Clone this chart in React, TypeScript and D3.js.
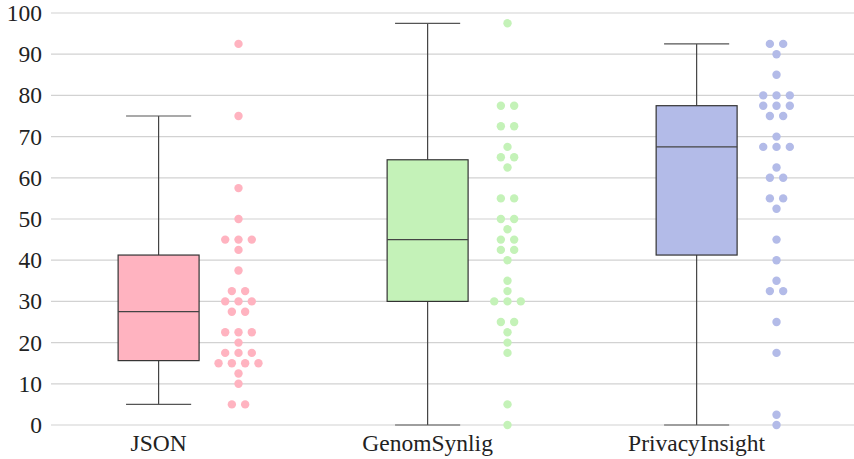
import React, { useEffect, useRef } from 'react';
import * as d3 from 'd3';

// categories + colours
const categories = ['JSON', 'GenomSynlig', 'PrivacyInsight'];
const colors = ['#ffb3c0', '#c4f2b8', '#b3bbe8'];

// raw scores
const jsonScores = [92.5, 75, 57.5, 50, 45, 45, 45, 42.5, 37.5, 32.5, 32.5, 30, 30, 30, 27.5, 27.5,
  22.5, 22.5, 22.5, 20, 17.5, 17.5, 17.5, 15, 15, 15, 15, 12.5, 10, 5, 5];
const genomScores = [97.5, 77.5, 77.5, 72.5, 72.5, 67.5, 65, 65, 62.5, 55, 55, 50, 50, 47.5, 45, 45,
  42.5, 42.5, 40, 35, 32.5, 30, 30, 30, 25, 25, 22.5, 20, 17.5, 5, 0];
const privacyScores = [92.5, 92.5, 90, 85, 80, 80, 80, 77.5, 77.5, 77.5, 75, 75, 70, 67.5, 67.5, 67.5,
  62.5, 60, 60, 55, 55, 52.5, 45, 40, 35, 32.5, 32.5, 25, 17.5, 2.5, 0];

const yTicks = [0, 10, 20, 30, 40, 50, 60, 70, 80, 90, 100];

const W = 854, H = 459;

// quantile with p_k = (k - 0.5)/n
function quant(sorted: number[], p: number) {
  const n = sorted.length;
  let h = n * p + 0.5 - 1;
  if (h <= 0) return sorted[0];
  if (h >= n - 1) return sorted[n - 1];
  const lo = Math.floor(h);
  return sorted[lo] + (h - lo) * (sorted[lo + 1] - sorted[lo]);
}

function boxStats(values: number[]) {
  const s = values.slice().sort((a, b) => a - b);
  const q1 = quant(s, 0.25), med = quant(s, 0.5), q3 = quant(s, 0.75);
  const iqr = q3 - q1;
  const lo = d3.min(s.filter(v => v >= q1 - 1.5 * iqr)) as number;
  const hi = d3.max(s.filter(v => v <= q3 + 1.5 * iqr)) as number;
  return { q1, med, q3, lo, hi };
}

const App = () => {
  const ref = useRef<SVGSVGElement>(null);

  useEffect(() => {
    const svg = d3.select(ref.current);
    svg.selectAll('*').remove();

    const series = [jsonScores, genomScores, privacyScores];

    const x = d3.scaleLinear().domain([-0.4, 2.585]).range([51, W]);
    const y = d3.scaleLinear().domain([0, 100]).range([425, 13]);
    const unit = x(1) - x(0);

    const font = '"Liberation Serif", "DejaVu Serif", serif';

    // grid
    svg.append('g')
      .selectAll('line')
      .data(yTicks)
      .enter()
      .append('line')
      .attr('x1', 51).attr('x2', W)
      .attr('y1', d => y(d)).attr('y2', d => y(d))
      .attr('stroke', '#d2d2d2')
      .attr('stroke-width', 1.2);

    // y tick labels
    svg.append('g')
      .selectAll('text')
      .data(yTicks)
      .enter()
      .append('text')
      .attr('x', 42)
      .attr('y', d => y(d))
      .attr('dy', '0.34em')
      .attr('text-anchor', 'end')
      .attr('font-family', font)
      .attr('font-size', 23.5)
      .attr('fill', '#222')
      .text(d => d);

    // x labels
    svg.append('g')
      .selectAll('text')
      .data(categories)
      .enter()
      .append('text')
      .attr('x', (d, i) => x(i))
      .attr('y', 451)
      .attr('text-anchor', 'middle')
      .attr('font-family', font)
      .attr('font-size', 23.5)
      .attr('fill', '#222')
      .text(d => d);

    const boxW = 0.301 * unit, capW = 0.242 * unit;

    series.forEach((vals, i) => {
      const st = boxStats(vals);
      const cx = x(i);
      const g = svg.append('g');

      // whiskers
      g.append('line').attr('x1', cx).attr('x2', cx).attr('y1', y(st.hi)).attr('y2', y(st.q3))
        .attr('stroke', '#444').attr('stroke-width', 1.2);
      g.append('line').attr('x1', cx).attr('x2', cx).attr('y1', y(st.q1)).attr('y2', y(st.lo))
        .attr('stroke', '#444').attr('stroke-width', 1.2);
      [st.hi, st.lo].forEach(v => {
        g.append('line').attr('x1', cx - capW / 2).attr('x2', cx + capW / 2).attr('y1', y(v)).attr('y2', y(v))
          .attr('stroke', '#555').attr('stroke-width', 1.2);
      });

      // box
      g.append('rect')
        .attr('x', cx - boxW / 2)
        .attr('y', y(st.q3))
        .attr('width', boxW)
        .attr('height', y(st.q1) - y(st.q3))
        .attr('fill', colors[i])
        .attr('stroke', '#333')
        .attr('stroke-width', 1.2);
      g.append('line').attr('x1', cx - boxW / 2).attr('x2', cx + boxW / 2).attr('y1', y(st.med)).attr('y2', y(st.med))
        .attr('stroke', '#444').attr('stroke-width', 1.2);

      // swarm of dots, spread sideways per value
      const dx = cx + 0.297 * unit;
      const groups = d3.group(vals, v => v);
      const pts: { v: number, off: number }[] = [];
      groups.forEach((arr, v) => {
        arr.forEach((_, j) => pts.push({ v: v, off: (j - (arr.length - 1) / 2) * 13.3 }));
      });
      g.selectAll('.dot')
        .data(pts)
        .enter()
        .append('circle')
        .attr('class', 'dot')
        .attr('cx', d => dx + d.off)
        .attr('cy', d => y(d.v))
        .attr('r', 4.2)
        .attr('fill', colors[i]);
    });
  }, []);

  return (
    <svg ref={ref} width={W} height={H} style={{ position: 'absolute', left: 0, top: 0, background: '#fff' }} />
  );
};

export default App;
